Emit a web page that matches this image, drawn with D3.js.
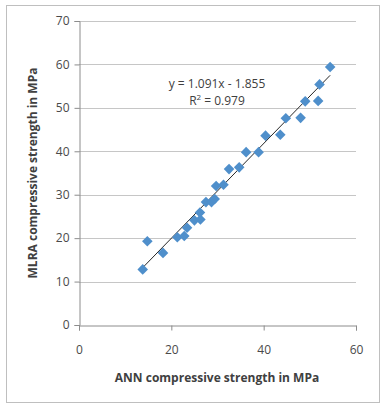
<!DOCTYPE html>
<html>
<head>
<script src="https://d3js.org/d3.v7.min.js"></script>
<style>
 body {margin: 0; background: #fff;}
 svg {display: block;}
 text {font-family: "Open Sans", "Liberation Sans", sans-serif;}
</style>
</head>
<body>
<div id="chart"></div>
<script>
// ANN vs MLRA compressive strength (MPa)
var annValues  = [13.8, 14.8, 18.2, 21.3, 22.8, 23.4, 25.0, 26.3, 26.2, 27.5, 28.7, 29.4, 29.7, 31.3, 32.5, 34.7, 36.2, 38.9, 40.4, 43.6, 44.8, 48.0, 49.0, 51.8, 52.1, 54.4];
var mlraValues = [12.8, 19.3, 16.6, 20.2, 20.5, 22.4, 24.1, 24.3, 25.9, 28.3, 28.3, 29.0, 32.0, 32.3, 35.9, 36.3, 39.8, 39.8, 43.6, 43.8, 47.6, 47.7, 51.5, 51.6, 55.4, 59.4];
var xTicks = [0, 20, 40, 60];
var yTicks = [0, 10, 20, 30, 40, 50, 60, 70];
var slope = 1.091, intercept = -1.855;
var eqLabel = "y = 1.091x - 1.855";
var r2Value = "0.979";

var width = 384, height = 408;
var margin = {left: 79, right: 28, top: 21, bottom: 83};

var svg = d3.select("#chart").append("svg")
    .attr("width", width).attr("height", height);

// outer frame
svg.append("rect").attr("x", 6.5).attr("y", 5.5)
   .attr("width", 373).attr("height", 397)
   .attr("fill", "#fff").attr("stroke", "#bfbfbf");

var x = d3.scaleLinear().domain([0, 60]).range([margin.left, width - margin.right]);
var y = d3.scaleLinear().domain([0, 70]).range([height - margin.bottom, margin.top]);

// gridlines
svg.append("g").selectAll("line").data(yTicks.filter(d => d > 0)).join("line")
   .attr("x1", x(0)).attr("x2", x(60))
   .attr("y1", d => Math.round(y(d)) + 0.5).attr("y2", d => Math.round(y(d)) + 0.5)
   .attr("stroke", "#c6c6c6").attr("stroke-width", 1);

// axes
var xAxis = svg.append("g")
   .attr("transform", "translate(0," + (Math.round(y(0)) + 0.5) + ")")
   .call(d3.axisBottom(x).tickValues(xTicks).tickSize(5).tickPadding(10));
var yAxis = svg.append("g")
   .attr("transform", "translate(" + (Math.round(x(0)) + 0.5) + ",0)")
   .call(d3.axisLeft(y).tickValues(yTicks).tickSize(5).tickPadding(5));
[xAxis, yAxis].forEach(function(g) {
  g.select(".domain").attr("stroke", "#8c8c8c");
  g.selectAll(".tick line").attr("stroke", "#8c8c8c");
  g.selectAll(".tick text").attr("fill", "#4a4a4a")
   .style("font-size", "12px").style("font-family", "'Open Sans', sans-serif");
});
xAxis.selectAll(".tick text").attr("dy", "1.1em");

// trendline across data range
var xMin = d3.min(annValues), xMax = d3.max(annValues);
svg.append("line")
   .attr("x1", x(xMin)).attr("y1", y(slope * xMin + intercept))
   .attr("x2", x(xMax)).attr("y2", y(slope * xMax + intercept))
   .attr("stroke", "#262626").attr("stroke-width", 1);

// diamond markers
var pts = annValues.map((d, i) => ({a: d, m: mlraValues[i]}));
svg.append("g").selectAll("path").data(pts).join("path")
   .attr("d", d3.symbol().type(d3.symbolSquare).size(56))
   .attr("transform", d => "translate(" + x(d.a) + "," + y(d.m) + ") rotate(45)")
   .attr("fill", "#4f8fcb");

// equation
var eq = svg.append("g").attr("fill", "#404040").style("font-size", "12px");
eq.append("text").attr("x", 217).attr("y", 88).attr("text-anchor", "middle").text(eqLabel);
var r2 = eq.append("text").attr("x", 217).attr("y", 105).attr("text-anchor", "middle");
r2.append("tspan").text("R");
r2.append("tspan").attr("dy", -5).style("font-size", "8px").text("2");
r2.append("tspan").attr("dy", 5).text(" = " + r2Value);

// axis titles
svg.append("text").attr("x", 217).attr("y", 382).attr("text-anchor", "middle")
   .attr("fill", "#404040").style("font-size", "12px").style("font-weight", "bold")
   .text("ANN compressive strength in MPa");
svg.append("text").attr("transform", "translate(37,173) rotate(-90)")
   .attr("text-anchor", "middle").attr("fill", "#404040")
   .style("font-size", "12px").style("font-weight", "bold")
   .text("MLRA compressive strength in MPa");
</script>
</body>
</html>
